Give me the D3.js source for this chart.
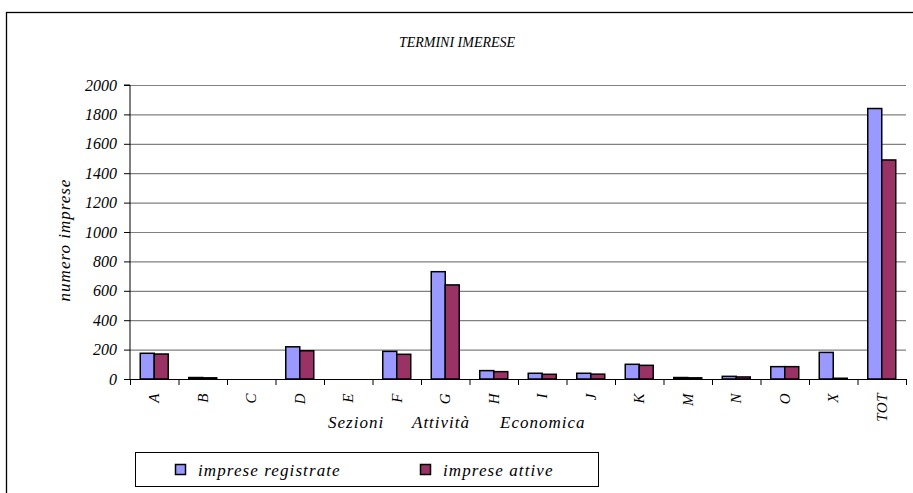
<!DOCTYPE html>
<html><head><meta charset="utf-8">
<script src="https://cdn.jsdelivr.net/npm/d3@7"></script>
</head><body>
<script>
const categories = ["A","B","C","D","E","F","G","H","I","J","K","M","N","O","X","TOT"];
const registrate = [175,10,0,219,0,188,730,57,39,39,100,10,18,84,181,1840];
const attive     = [170,8,0,192,0,168,640,50,32,33,93,8,14,84,5,1490];
const seriesNames = ["imprese registrate","imprese attive"];
const colors = ["#9999FF","#993366"];
const yTicks = [0,200,400,600,800,1000,1200,1400,1600,1800,2000];

document.body.style.margin="0";
const FONT = "'Liberation Serif'";
const W=913,H=493;
const svg=d3.select("body").append("svg").attr("width",W).attr("height",H).style("display","block");
svg.append("rect").attr("x",6.5).attr("y",12.5).attr("width",W+10).attr("height",H+10)
  .attr("fill","#fff").attr("stroke","#000").attr("stroke-width",1.3);

const L=130,R=906,T=85,B=379;
const x=d3.scaleBand().domain(categories).range([L,R]);
const y=d3.scaleLinear().domain([0,2000]).range([B,T]);
const xs=d3.scaleBand().domain([0,1]).range([0,28]);

function txt(sel,size,ls){ sel.attr("font-family",FONT).attr("font-style","italic").attr("font-size",size);
  if(ls) sel.attr("letter-spacing",ls); return sel; }

// gridlines
svg.append("g").selectAll("line").data(yTicks.slice(1)).join("line")
  .attr("x1",L).attr("x2",R).attr("y1",d=>y(d)+0.5).attr("y2",d=>y(d)+0.5)
  .attr("stroke","#808080").attr("stroke-width",1.2);

// bars
const data=[registrate,attive];
const g=svg.append("g");
categories.forEach((c,i)=>{
  data.forEach((s,k)=>{
    const x0=x(c)+(x.bandwidth()-28)/2+xs(k);
    g.append("rect").attr("x",x0).attr("width",xs.bandwidth())
      .attr("y",y(s[i])).attr("height",Math.max(0,y(0)-y(s[i])))
      .attr("fill",colors[k]).attr("stroke","#000").attr("stroke-width",1.5);
  });
});

// y axis
const ya=svg.append("g").attr("transform",`translate(${L},0)`)
  .call(d3.axisLeft(y).tickValues(yTicks).tickSize(6).tickPadding(7).tickFormat(d3.format("d")));
ya.attr("font-family",FONT).attr("font-size",16).attr("font-style","italic");
txt(ya.selectAll("text"),16);
ya.selectAll("line,path").attr("stroke","#000");
ya.select(".domain").attr("d",`M-6,${T}H0V${B}`);

// x axis
const xa=svg.append("g").attr("transform",`translate(0,${B})`)
  .call(d3.axisBottom(x).tickSize(0).tickFormat(""));
xa.select(".domain").attr("stroke","#000");
svg.append("g").selectAll("line").data(categories.concat(["_end"])).join("line")
  .attr("x1",(d,i)=>L+i*x.step()+0.5).attr("x2",(d,i)=>L+i*x.step()+0.5)
  .attr("y1",B).attr("y2",B+6).attr("stroke","#000");
txt(svg.append("g").selectAll("text").data(categories).join("text")
  .attr("transform",d=>`translate(${x(d)+x.bandwidth()/2+5},393) rotate(-90)`)
  .attr("text-anchor","end"),15,0.5).text(d=>d);

// titles
txt(svg.append("text").attr("x",457).attr("y",47).attr("text-anchor","middle"),14).text("TERMINI IMERESE");
txt(svg.append("text").attr("transform","translate(70,240) rotate(-90)").attr("text-anchor","middle"),17,1).text("numero imprese");
[["Sezioni",328],["Attività",412],["Economica",500]].forEach(([t,xx])=>
  txt(svg.append("text").attr("x",xx).attr("y",428),17,1).text(t));

// legend
const lg=svg.append("g");
lg.append("rect").attr("x",135.5).attr("y",452.5).attr("width",463).attr("height",34).attr("fill","#fff").attr("stroke","#000");
const lx=[175,420];
seriesNames.forEach((n,k)=>{
  lg.append("rect").attr("x",lx[k]+0.5).attr("y",464.5).attr("width",10).attr("height",10).attr("fill",colors[k]).attr("stroke","#000").attr("stroke-width",1.5);
  txt(lg.append("text").attr("x",lx[k]+23).attr("y",476),17,1.1).text(n);
});
</script>
</body></html>
